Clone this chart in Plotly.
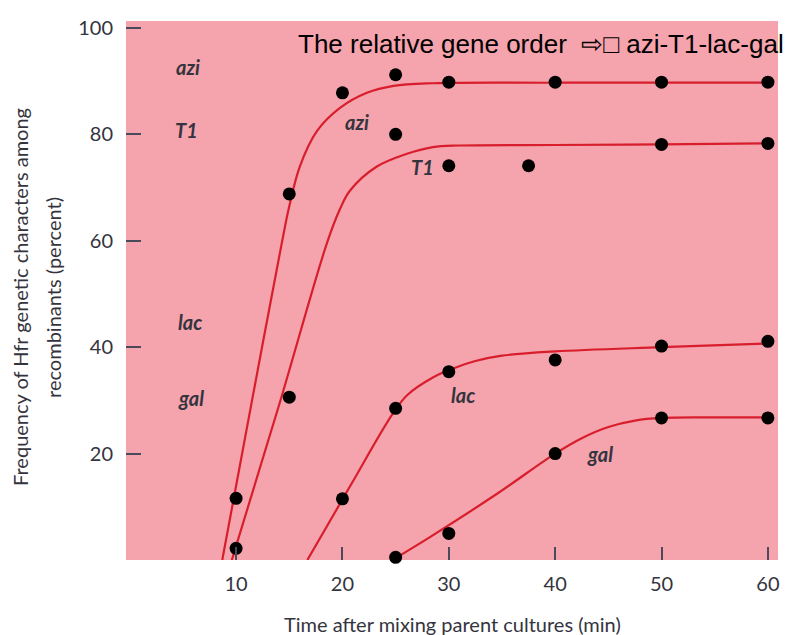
import plotly.graph_objects as go

# ---- measured data points (time in min, frequency in percent) ----
time_azi = [10, 15, 20, 25, 30, 40, 50, 60]
freq_azi = [11.6, 68.8, 87.8, 91.2, 89.8, 89.8, 89.8, 89.8]

time_t1 = [10, 15, 25, 30, 37.5, 50, 60]
freq_t1 = [2.2, 30.6, 80.0, 74.1, 74.1, 78.1, 78.3]

time_lac = [20, 25, 30, 40, 50, 60]
freq_lac = [11.5, 28.5, 35.4, 37.6, 40.2, 41.1]

time_gal = [25, 30, 40, 50, 60]
freq_gal = [0.5, 5.0, 20.0, 26.7, 26.7]

# ---- hand-drawn fitted curves ----
curve_azi_x = [8.7, 11.5, 14.3, 15.0, 16.0, 17.6, 19.8, 22.3, 24.8, 28.5, 40, 60]
curve_azi_y = [0.0, 30.0, 59.6, 66.5, 74.0, 80.6, 85.0, 87.8, 89.1, 89.6, 89.7, 89.7]

curve_t1_x = [9.6, 14.1, 18.55, 19.8, 20.7, 23.2, 26.0, 28.5, 31.0, 40, 50, 60]
curve_t1_y = [0.0, 29.5, 59.6, 66.1, 69.4, 73.9, 76.3, 77.6, 77.9, 78.0, 78.1, 78.3]

curve_lac_x = [16.7, 20.7, 24.7, 26.1, 28.5, 30.4, 32.5, 35, 40, 50, 60]
curve_lac_y = [0.0, 13.8, 27.4, 31.0, 34.3, 36.0, 37.4, 38.4, 39.2, 40.0, 40.7]

curve_gal_x = [24.7, 28.3, 34.5, 40, 42.5, 45, 47.5, 50, 55, 60]
curve_gal_y = [0.0, 4.4, 12.4, 20.0, 22.9, 25.0, 26.2, 26.7, 26.8, 26.8]

# ---- labels ----
gene_names = ["azi", "T1", "lac", "gal"]
left_label_x = [5.5, 5.3, 5.7, 5.8]
left_label_y = [92.6, 80.9, 44.7, 30.4]
curve_label_x = [21.4, 27.5, 31.3, 44.2]
curve_label_y = [82.4, 73.9, 31.0, 20.0]

x_ticks = [10, 20, 30, 40, 50, 60]
y_ticks = [20, 40, 60, 80, 100]

title_text = "The relative gene order  ⇨□ azi-T1-lac-gal"
x_title = "Time after mixing parent cultures (min)"
y_title_line1 = "Frequency of Hfr genetic characters among"
y_title_line2 = "recombinants (percent)"

LINE_RED = "#d81e2c"
PINK = "#f5a3ad"
TEXT = "#34343e"
FONT = "Lato"

fig = go.Figure()

for cx, cy in [(curve_azi_x, curve_azi_y), (curve_t1_x, curve_t1_y),
               (curve_lac_x, curve_lac_y), (curve_gal_x, curve_gal_y)]:
    fig.add_trace(go.Scatter(x=cx, y=cy, mode="lines",
                             line=dict(color=LINE_RED, width=2.2, shape="spline", smoothing=1.0),
                             hoverinfo="skip", showlegend=False))

for tx, fy in [(time_azi, freq_azi), (time_t1, freq_t1),
               (time_lac, freq_lac), (time_gal, freq_gal)]:
    fig.add_trace(go.Scatter(x=tx, y=fy, mode="markers",
                             marker=dict(color="black", size=13),
                             showlegend=False, cliponaxis=False))

annotations = []
for name, lx, ly in zip(gene_names, left_label_x, left_label_y):
    annotations.append(dict(x=lx, y=ly, xref="x", yref="y", text="<b><i>" + name + "</i></b>",
                            showarrow=False, font=dict(family=FONT, size=20, color=TEXT)))
for name, lx, ly in zip(gene_names, curve_label_x, curve_label_y):
    annotations.append(dict(x=lx, y=ly, xref="x", yref="y", text="<b><i>" + name + "</i></b>",
                            showarrow=False, font=dict(family=FONT, size=20, color=TEXT)))

annotations.append(dict(x=1.012, y=0.958, xref="paper", yref="paper", text=title_text,
                        xanchor="right", yanchor="middle", showarrow=False,
                        font=dict(family="Liberation Sans, Arial", size=26, color="black")))
annotations.append(dict(x=0.5, y=-0.118, xref="paper", yref="paper", text=x_title,
                        xanchor="center", yanchor="middle", showarrow=False,
                        font=dict(family=FONT, size=20, color=TEXT)))
annotations.append(dict(x=-0.1626, y=0.488, xref="paper", yref="paper", text=y_title_line1,
                        xanchor="center", yanchor="middle", showarrow=False, textangle=-90,
                        font=dict(family=FONT, size=20, color=TEXT)))
annotations.append(dict(x=-0.112, y=0.488, xref="paper", yref="paper", text=y_title_line2,
                        xanchor="center", yanchor="middle", showarrow=False, textangle=-90,
                        font=dict(family=FONT, size=20, color=TEXT)))

# the page body has an 8px default margin, so the figure is drawn 8px smaller
fig.update_layout(
    width=785, height=627,
    margin=dict(l=118, r=15, t=7, b=75),
    paper_bgcolor="white",
    plot_bgcolor=PINK,
    annotations=annotations,
    showlegend=False,
    xaxis=dict(range=[-0.35, 60.95], tickvals=x_ticks, ticktext=[str(v) for v in x_ticks],
               ticks="inside", ticklen=13, tickwidth=2, tickcolor="#4a4a5a",
               showgrid=False, zeroline=False, showline=False,
               ticklabelstandoff=10,
               tickfont=dict(family=FONT, size=20, color=TEXT)),
    yaxis=dict(range=[0, 101.3], tickvals=y_ticks, ticktext=[str(v) for v in y_ticks],
               ticks="inside", ticklen=15, tickwidth=2, tickcolor="#4a4a5a",
               showgrid=False, zeroline=False, showline=False,
               ticklabelstandoff=12,
               tickfont=dict(family=FONT, size=20, color=TEXT)),
)

fig.write_html("out.html")
